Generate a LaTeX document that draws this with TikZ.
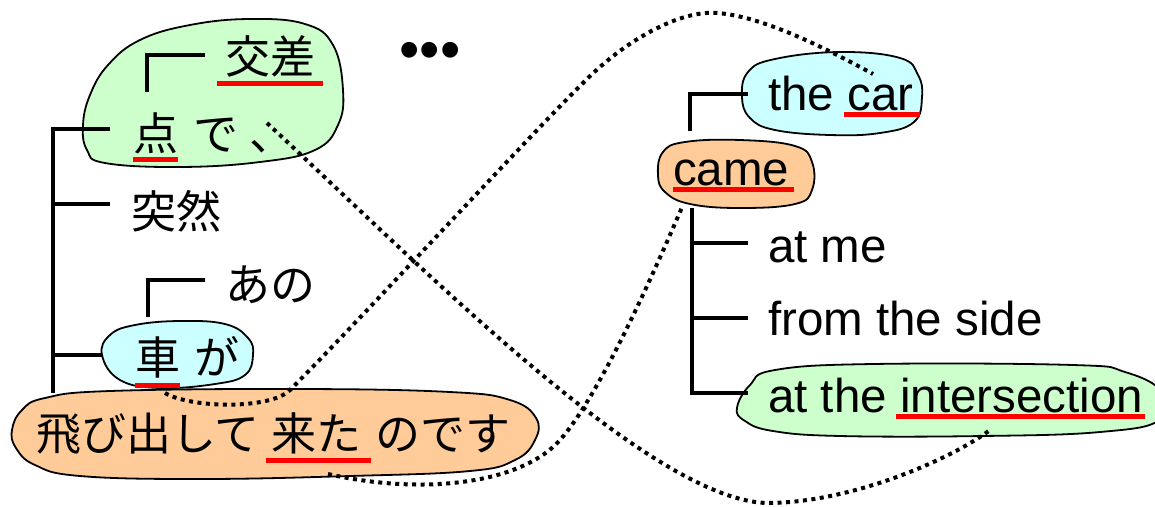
\documentclass[tikz,border=0pt]{standalone}
\usepackage{fontspec}
\setmainfont{Liberation Sans}
\newfontfamily\jpfamily{Noto Sans CJK JP}
\definecolor{blobgreen}{HTML}{CCFFCC}
\definecolor{blobblue}{HTML}{CCFFFF}
\definecolor{bloborange}{HTML}{FFCC99}
\definecolor{ulred}{HTML}{FF0000}
% red underline bar: #1 depth of bar bottom, #2 left overhang, #3 right overhang, #4 text
\newsavebox\ulbox
\newcommand\ulmark[4]{\sbox\ulbox{#4}\kern-#2\rlap{\color{ulred}\rule[-#1]{\dimexpr\wd\ulbox+#2+#3\relax}{5pt}}\kern#2\usebox\ulbox}
\newcommand\jatext{\jpfamily\fontsize{45}{49}\selectfont}
\newcommand\entext{\fontsize{47.5}{52}\selectfont}
\tikzset{
  blob/.style={draw=black, line width=1.8pt},
  tree/.style={line width=4pt, line join=miter},
  link/.style={line width=4pt, dash pattern=on 4pt off 4.5pt},
  ja/.style={inner sep=0pt, anchor=base west, font=\jatext},
  en/.style={inner sep=0pt, anchor=base west, font=\entext},
}
\begin{document}
\begin{tikzpicture}[x=1pt, y=-1pt]
\useasboundingbox (0,0) rectangle (1155,506);

% ---- phrase blobs ----
\draw[blob, fill=blobgreen] plot[smooth cycle, tension=0.7] coordinates {
  (83,125) (90,95) (108,65) (140,40) (190,25) (250,19) (305,24) (333,45)
  (343,90) (338,125) (315,150) (260,162) (180,167) (105,163) (87,150)};
\draw[blob, fill=blobblue] plot[smooth cycle, tension=0.7] coordinates {
  (102,355) (110,335) (135,325) (180,321) (225,324) (248,338) (253,355)
  (245,375) (215,384) (160,388) (120,380)};
\draw[blob, fill=bloborange] plot[smooth cycle, tension=0.7] coordinates {
  (12,430) (22,410) (45,398) (110,391) (300,389) (450,392) (510,400) (536,418)
  (535,440) (515,460) (470,471) (350,476) (200,479) (80,476) (35,465) (16,448)};
\draw[blob, fill=blobblue] plot[smooth cycle, tension=0.7] coordinates {
  (742,97) (748,72) (775,59) (840,52) (900,58) (918,75) (922,97) (914,122)
  (880,133) (830,135) (775,130) (750,118)};
\draw[blob, fill=bloborange] plot[smooth cycle, tension=0.7] coordinates {
  (658,175) (663,152) (685,142) (740,140) (795,146) (812,162) (812,190)
  (795,204) (740,208) (690,204) (665,192)};
\draw[blob, fill=blobgreen] plot[smooth cycle, tension=0.7] coordinates {
  (737,408) (750,385) (775,370) (873,364) (1073,365) (1125,372) (1162,392)
  (1160,420) (1100,432) (983,436) (840,436) (773,431) (745,421)};

% ---- Japanese words ----
\node[ja] (kousa) at (225,73) {\ulmark{13pt}{8pt}{8pt}{交差}};
\node[ja] (ten) at (133,150) {\ulmark{12pt}{0pt}{0pt}{点}\hspace{15pt}で\hspace{11pt}、};
\node[ja] (totsuzen) at (131,228) {突然};
\node[ja] (ano) at (225,301) {あの};
\node[ja] (kuruma) at (135,374) {\ulmark{14pt}{0pt}{0pt}{車}\hspace{14pt}が};
\node[ja] (kita) at (36,450) {飛び出して\hspace{12pt}\ulmark{13pt}{6pt}{9pt}{来た}\hspace{14pt}のです};
\node[font=\fontsize{58}{62}\selectfont, inner sep=0pt] (dots) at (430,56) {•••};

% ---- English words ----
\node[en] (thecar) at (768,110) {the \ulmark{7pt}{3pt}{7pt}{car}};
\node[en] (came) at (673,185) {\ulmark{7pt}{0pt}{5pt}{came}};
\node[en] (atme) at (768,262) {at me};
\node[en] (side) at (768,335) {from the side};
\node[en] (inter) at (768,412) {at the \ulmark{7pt}{4pt}{2pt}{intersection}};

% ---- dependency brackets, Japanese ----
\coordinate (tenEnd) at (110,129);
\coordinate (Lroot) at (53,393);
\coordinate (totsuEnd) at (110,204);
\coordinate (kurumaEnd) at (102,355);
\coordinate (kousaEnd) at (205,55);
\coordinate (kousaFoot) at (147,92);
\coordinate (anoEnd) at (205,280);
\coordinate (anoFoot) at (148,317);
\draw[tree] (tenEnd) -| (Lroot);
\draw[tree] (totsuEnd) -- (totsuEnd -| Lroot);
\draw[tree] (kurumaEnd) -- (kurumaEnd -| Lroot);
\draw[tree] (kousaEnd) -| (kousaFoot);
\draw[tree] (anoEnd) -| (anoFoot);

% ---- dependency brackets, English ----
\coordinate (carEnd) at (748,94);
\coordinate (cameTop) at (690,131);
\coordinate (cameBot) at (692,208);
\coordinate (atmeEnd) at (748,243);
\coordinate (sideEnd) at (748,318);
\coordinate (interEnd) at (748,393);
\draw[tree] (carEnd) -| (cameTop);
\draw[tree] (cameBot) |- (interEnd);
\draw[tree] (atmeEnd) -- (atmeEnd -| cameBot);
\draw[tree] (sideEnd) -- (sideEnd -| cameBot);

% ---- alignment links ----
\coordinate (kurumaLink) at (165,393);
\coordinate (carLink) at (873,74);
\coordinate (tenLink) at (267,123);
\coordinate (interLink) at (990,430);
\coordinate (kitaLink) at (328,474);
\coordinate (cameLink) at (683,205);
\draw[link] (kurumaLink) .. controls (190,408) and (270,410) .. (290,390)
  .. controls (360,320) and (530,135) .. (583,83)
  .. controls (625,40) and (680,10) .. (717,13)
  .. controls (760,16) and (820,45) .. (carLink);
\draw[link] (tenLink) .. controls (420,265) and (650,500) .. (767,503)
  .. controls (850,503) and (950,460) .. (interLink);
\draw[link] (kitaLink) .. controls (420,495) and (520,485) .. (560,440)
  .. controls (600,395) and (655,270) .. (cameLink);
\end{tikzpicture}
\end{document}
